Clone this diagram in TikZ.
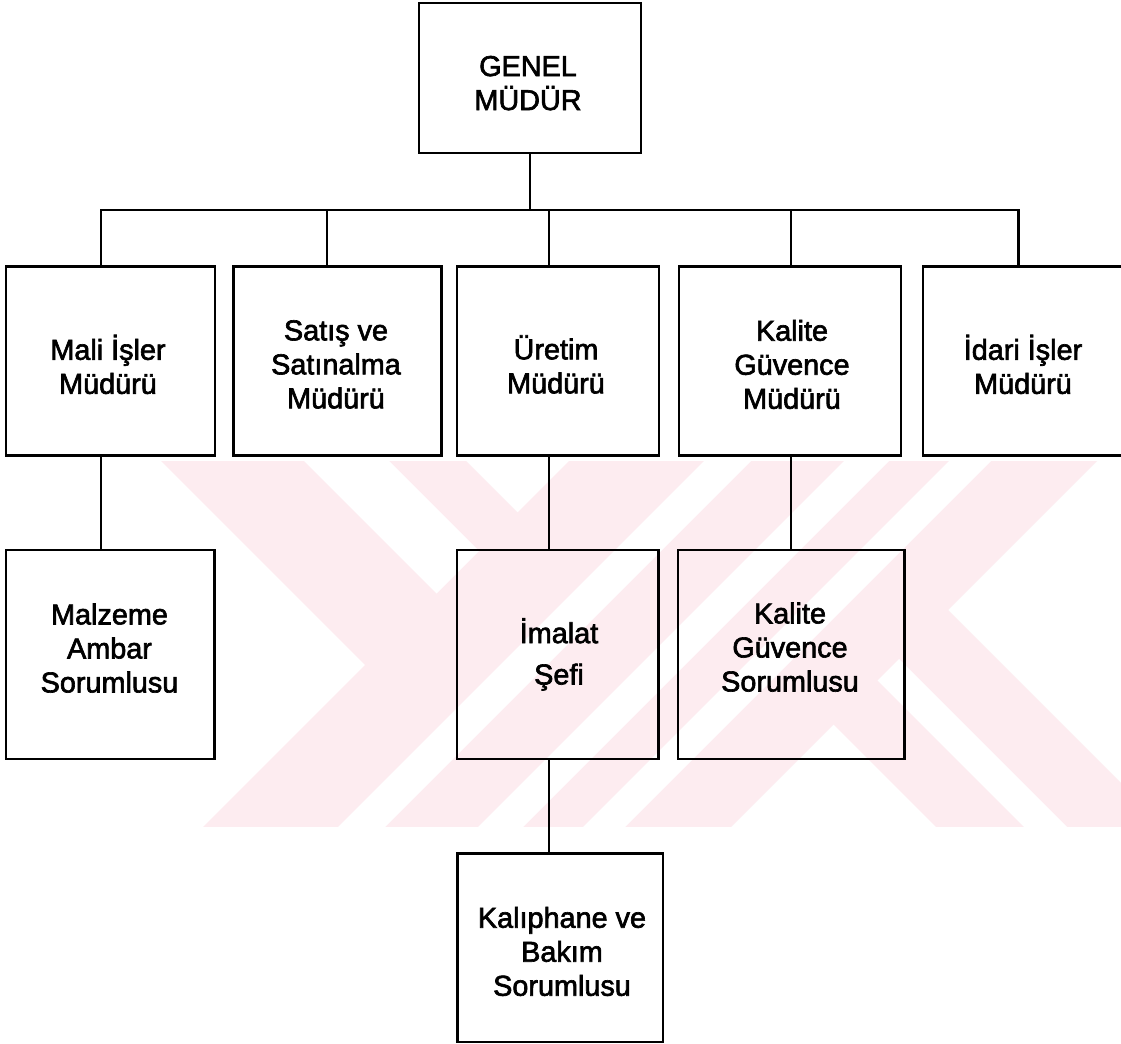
\documentclass[tikz,border=0pt]{standalone}
\usepackage{fontspec}
\setmainfont{Liberation Sans}
\newfontfamily\lblfont{Liberation Sans}[FakeBold=2.2]
\newdimen\pxu \pxu=0.75pt
% fixed-height struts so every label block centres on the same baseline offset
\newcommand\lblTop{\rule{0pt}{20.5pt}}
\newcommand\lblBot{\rule[-6pt]{0pt}{6pt}}
\definecolor{wmpink}{RGB}{253,236,240}
\begin{document}
\begin{tikzpicture}[x=0.75pt,y=-0.75pt,
  orgbox/.style={draw=black, line width=1.95pt, rectangle, inner sep=0pt, minimum height=189\pxu},
  link/.style={line width=1.65pt, line join=miter},
  lbl/.style={font=\lblfont\fontsize{21.6pt}{25.5pt}\selectfont, align=center, inner sep=0pt,
    execute at begin node=\lblTop, execute at end node=\lblBot}]
\useasboundingbox (0,0) rectangle (1121,1044);
\clip (0,0) rectangle (1121,1044);
\fill[white] (0,0) rectangle (1121,1044);

% background emblem: diagonal bands
\begin{scope}
  \clip (0,462) rectangle (1121,826);
  \fill[wmpink] (630,400) -- (1158,400) -- (658,900) -- (130,900) -- cycle;
  \fill[wmpink] (100,400) -- (405,400) -- (520.5,515.5) -- (368,668) -- cycle;
  \fill[wmpink] (830.5,721.5) -- (945,607) -- (1238,900) -- (1009,900) -- cycle;
  \fill[white] (243,400) -- (328,400) -- (479,551) -- (436.5,593.5) -- cycle;
  \fill[white] (765,400) -- (812,400) -- (312,900) -- (265,900) -- cycle;
  \fill[white] (905,400) -- (950,400) -- (450,900) -- (405,900) -- cycle;
  \fill[white] (1010,400) -- (1052,400) -- (552,900) -- (510,900) -- cycle;
  \fill[white] (877.5,680.5) -- (899,659) -- (1140,900) -- (1097,900) -- cycle;
\end{scope}

% top level
\node[orgbox, minimum width=222\pxu, minimum height=150\pxu] (gm) at (530,78) {};
\node[lbl] (gm-t) at (528,87) {GENEL\\MÜDÜR};

% department managers
\node[orgbox, minimum width=209\pxu] (mali) at (110.5,361) {};
\node[lbl] (mali-t) at (108,368.3) {Mali İşler\\Müdürü};
\node[orgbox, minimum width=208\pxu] (satis) at (337.5,361) {};
\node[lbl] (satis-t) at (336,368.3) {Satış ve\\Satınalma\\Müdürü};
\node[orgbox, minimum width=202\pxu] (uretim) at (558,361) {};
\node[lbl] (uretim-t) at (556,368.3) {Üretim\\Müdürü};
\node[orgbox, minimum width=222\pxu] (kalite) at (790,361) {};
\node[lbl] (kalite-t) at (792,368.3) {Kalite\\Güvence\\Müdürü};
\node[orgbox, minimum width=202\pxu] (idari) at (1024,361) {};
\node[lbl] (idari-t) at (1023,368.3) {İdari İşler\\Müdürü};

% third level
\node[orgbox, minimum width=208.5\pxu, minimum height=209\pxu] (malzeme) at (110.25,654.5) {};
\node[lbl] (malzeme-t) at (109.5,652) {Malzeme\\Ambar\\Sorumlusu};
\node[orgbox, minimum width=201.5\pxu, minimum height=209\pxu] (imalat) at (557.75,654.5) {};
\node[lbl] (imalat-t) at (559,655.3) {İmalat\\[5.5pt]Şefi};
\node[orgbox, minimum width=226.5\pxu, minimum height=209\pxu] (kalsor) at (791.25,654.5) {};
\node[lbl] (kalsor-t) at (790,651) {Kalite\\Güvence\\Sorumlusu};

% fourth level
\node[orgbox, minimum width=205.5\pxu, minimum height=188.5\pxu] (kaliphane) at (560.25,947.75) {};
\node[lbl] (kaliphane-t) at (562,955.3) {Kalıphane ve\\Bakım\\Sorumlusu};

% connectors
\coordinate (t1) at (101,210);
\coordinate (t2) at (327,210);
\coordinate (t3) at (549,210);
\coordinate (t4) at (791,210);
\coordinate (t5) at (1018.5,210);
\draw[link] (gm.south) -- (gm.south |- t1);
\draw[link] (t1 |- mali.north) -- (t1) -- (t5) -- (t5 |- idari.north);
\draw[link] (t2) -- (t2 |- satis.north);
\draw[link] (t3) -- (t3 |- uretim.north);
\draw[link] (t4) -- (t4 |- kalite.north);
\draw[link] (mali.south -| t1) -- (malzeme.north -| t1);
\draw[link] (uretim.south -| t3) -- (imalat.north -| t3);
\draw[link] (kalite.south -| t4) -- (kalsor.north -| t4);
\draw[link] (imalat.south -| t3) -- (kaliphane.north -| t3);
\end{tikzpicture}
\end{document}
